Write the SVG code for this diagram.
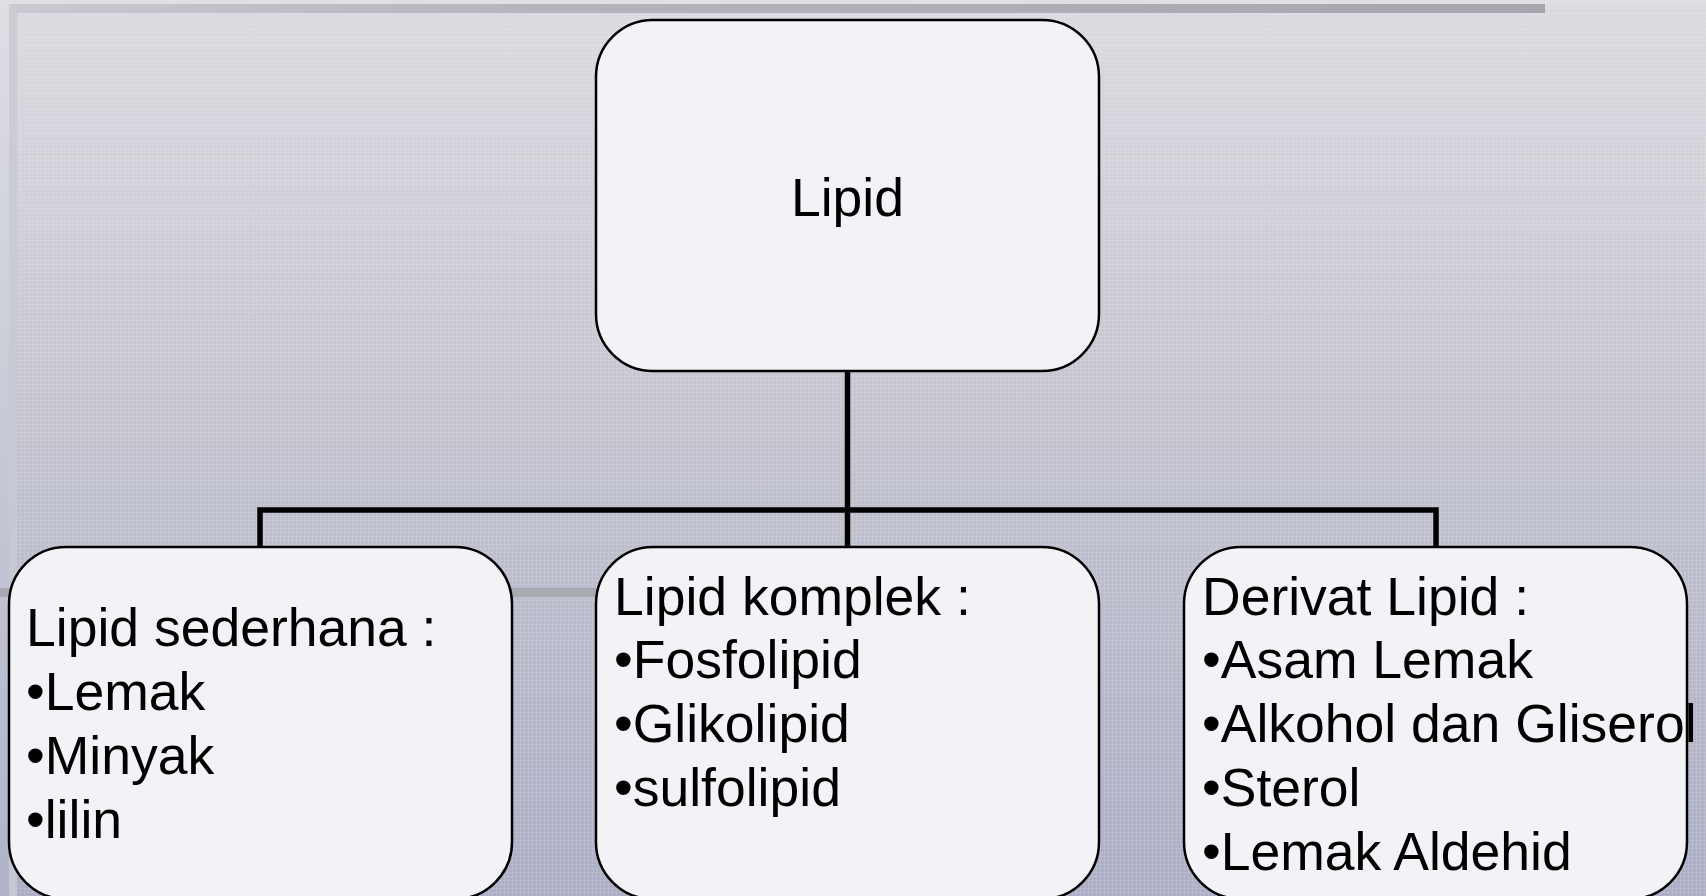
<svg xmlns="http://www.w3.org/2000/svg" width="1706" height="896" viewBox="0 0 1706 896">
  <defs>
    <linearGradient id="bg" x1="0" y1="0" x2="0" y2="1">
      <stop offset="0" stop-color="#dadbe0"/>
      <stop offset="0.45" stop-color="#c5c5d0"/>
      <stop offset="1" stop-color="#acaec6"/>
    </linearGradient>
    <linearGradient id="leftStrip" x1="0" y1="0" x2="0" y2="1">
      <stop offset="0" stop-color="#dedfe3"/>
      <stop offset="1" stop-color="#b0b2ca"/>
    </linearGradient>
    <linearGradient id="bevel" x1="0" y1="0" x2="0" y2="1">
      <stop offset="0" stop-color="#cbccd4"/>
      <stop offset="1" stop-color="#c6c6d4"/>
    </linearGradient>
    <linearGradient id="topBar" x1="0" y1="0" x2="1" y2="0">
      <stop offset="0" stop-color="#c9c9d1"/>
      <stop offset="0.35" stop-color="#b4b4bc"/>
      <stop offset="1" stop-color="#a6a6ae"/>
    </linearGradient>
    <pattern id="grid" width="4" height="4" patternUnits="userSpaceOnUse">
      <rect x="0" y="0" width="4" height="1" fill="#ffffff" fill-opacity="0.10"/>
      <rect x="0" y="0" width="1" height="4" fill="#ffffff" fill-opacity="0.10"/>
    </pattern>
  </defs>
  <style>
    .box { fill: #f2f2f7; stroke: #000000; stroke-width: 2.5; }
    .lbl { font-family: "Liberation Sans", Arial, sans-serif; font-size: 53.5px; fill: #000000; }
    .conn { fill: none; stroke: #000000; stroke-width: 5.5; stroke-linejoin: miter; stroke-linecap: butt; }
  </style>

  <!-- background -->
  <rect x="0" y="0" width="1706" height="896" fill="url(#bg)"/>
  <rect x="0" y="0" width="1706" height="896" fill="url(#grid)"/>
  <rect x="0" y="0" width="1706" height="4" fill="#e0e0e4"/>
  <rect x="0" y="0" width="9" height="896" fill="url(#leftStrip)"/>
  <polygon points="9,4 17,13 17,896 9,896" fill="url(#bevel)"/>
  <polygon points="9,4 1545,4 1545,13 17,13" fill="url(#topBar)"/>
  <rect x="0" y="588" width="600" height="9" fill="#a9a9b2"/>

  <!-- connectors -->
  <g id="connectors">
    <path class="conn" d="M847.5,371 V547"/>
    <path class="conn" d="M260,547 V510 H1436 V547"/>
  </g>

  <g id="node-lipid">
    <rect class="box" x="596" y="20" width="503" height="351" rx="57" ry="57"/>
    <text class="lbl" x="847.5" y="216" text-anchor="middle">Lipid</text>
  </g>

  <g id="node-sederhana">
    <rect class="box" x="9" y="547" width="503" height="352" rx="57" ry="57"/>
    <text class="lbl">
      <tspan x="26" y="646">Lipid sederhana :</tspan>
      <tspan x="26" y="710">•Lemak</tspan>
      <tspan x="26" y="774">•Minyak</tspan>
      <tspan x="26" y="838">•lilin</tspan>
    </text>
  </g>

  <g id="node-komplek">
    <rect class="box" x="596" y="547" width="503" height="352" rx="57" ry="57"/>
    <text class="lbl">
      <tspan x="614" y="615">Lipid komplek :</tspan>
      <tspan x="614" y="678">•Fosfolipid</tspan>
      <tspan x="614" y="742">•Glikolipid</tspan>
      <tspan x="614" y="806">•sulfolipid</tspan>
    </text>
  </g>

  <g id="node-derivat">
    <rect class="box" x="1184" y="547" width="503" height="352" rx="57" ry="57"/>
    <text class="lbl">
      <tspan x="1202" y="615">Derivat Lipid :</tspan>
      <tspan x="1202" y="678">•Asam Lemak</tspan>
      <tspan x="1202" y="742">•Alkohol dan Gliserol</tspan>
      <tspan x="1202" y="806">•Sterol</tspan>
      <tspan x="1202" y="870">•Lemak Aldehid</tspan>
    </text>
  </g>
</svg>
